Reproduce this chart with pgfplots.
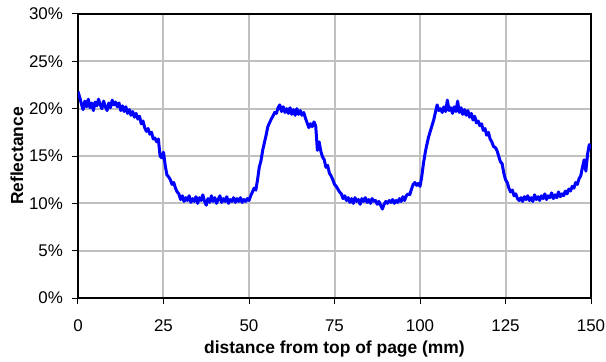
\documentclass[border=0pt]{standalone}
\usepackage{fontspec}
\setmainfont{Liberation Sans}
\usepackage{pgfplots}
\usepackage{pgfplotstable}
\pgfplotsset{compat=1.18}
\definecolor{gridgray}{RGB}{192,192,192}
\pgfplotstableread{
x y
0 21.8
0.5 21.2
1 20.5
1.5 19.9
2 20.8
2.5 20.2
3 21.0
3.5 20.1
4 20.6
4.5 19.8
5 20.7
5.5 20.3
6 21.0
6.5 20.4
7 20.0
7.5 20.8
8 20.2
8.5 19.8
9 20.6
9.5 20.1
10 20.9
10.5 20.4
11 20.7
11.5 20.2
12 20.6
12.5 19.8
13 20.3
13.5 19.7
14 20.2
14.5 19.5
15 19.9
15.5 19.3
16 19.7
16.5 19.1
17 19.5
17.5 18.9
18 19.2
18.5 18.4
19 18.7
19.5 18.0
20 17.6
20.5 17.9
21 17.3
21.5 17.5
22 16.8
22.5 16.9
23 16.5
23.5 16.8
24 15.0
24.5 14.8
25 15.4
25.5 14.0
26 13.0
26.5 12.8
27 12.5
27.5 12.0
28 12.2
28.5 11.6
29 11.2
29.5 11.0
30 10.4
30.5 10.8
31 10.2
31.5 10.6
32 10.3
32.5 10.8
33 10.1
33.5 10.5
34 10.2
34.5 10.7
35 10.0
35.5 10.6
36 10.3
36.5 10.9
37 10.2
37.5 9.8
38 10.5
38.5 10.1
39 10.8
39.5 10.2
40 10.6
40.5 10.0
41 10.4
41.5 10.8
42 10.1
42.5 10.5
43 10.2
43.5 10.7
44 10.0
44.5 10.4
45 10.2
45.5 10.6
46 10.1
46.5 10.5
47 10.2
47.5 10.6
48 10.1
48.5 10.4
49 10.2
49.5 10.5
50 10.3
50.5 10.8
51 11.2
51.5 11.6
52 11.4
52.5 12.5
53 13.8
53.5 14.5
54 15.6
54.5 16.4
55 17.2
55.5 18.1
56 18.5
56.5 18.9
57 19.2
57.5 19.6
58 19.5
58.5 20.1
59 20.4
59.5 19.7
60 20.2
60.5 19.6
61 20.0
61.5 19.5
62 20.1
62.5 19.4
63 19.9
63.5 19.3
64 20.0
64.5 19.4
65 19.8
65.5 19.3
66 19.6
66.5 19.0
67 18.5
67.5 18.0
68 18.4
68.5 18.1
69 18.6
69.5 18.2
70 15.6
70.5 16.5
71 15.5
71.5 14.9
72 14.6
72.5 13.8
73 14.0
73.5 13.2
74 12.9
74.5 12.5
75 12.0
75.5 11.8
76 11.5
76.5 11.2
77 11.0
77.5 10.5
78 10.8
78.5 10.3
79 10.6
79.5 10.1
80 10.5
80.5 10.0
81 10.6
81.5 10.2
82 10.4
82.5 9.9
83 10.5
83.5 10.2
84 10.6
84.5 10.1
85 10.4
85.5 10.0
86 10.5
86.5 10.2
87 10.3
87.5 9.9
88 10.2
88.5 9.8
89 9.4
89.5 9.9
90 10.2
90.5 10.0
91 10.3
91.5 10.1
92 10.4
92.5 10.0
93 10.3
93.5 10.1
94 10.5
94.5 10.2
95 10.7
95.5 10.3
96 10.8
96.5 11.0
97 10.9
97.5 11.5
98 12.0
98.5 12.2
99 11.9
99.5 12.1
100 11.8
100.5 12.8
101 14.2
101.5 15.3
102 16.2
102.5 17.0
103 17.6
103.5 18.2
104 18.8
104.5 19.6
105 20.4
105.5 19.8
106 20.0
106.5 19.6
107 20.2
107.5 19.7
108 20.9
108.5 19.8
109 20.1
109.5 19.5
110 20.2
110.5 19.7
111 20.8
111.5 19.6
112 20.1
112.5 19.4
113 19.9
113.5 19.3
114 19.8
114.5 19.1
115 19.5
115.5 18.8
116 19.2
116.5 18.5
117 18.7
117.5 18.2
118 18.4
118.5 17.7
119 17.9
119.5 17.2
120 17.5
120.5 16.8
121 16.5
121.5 16.0
122 15.9
122.5 15.6
123 15.0
123.5 14.4
124 14.2
124.5 13.2
125 12.5
125.5 12.2
126 11.6
126.5 11.2
127 11.4
127.5 10.8
128 11.0
128.5 10.5
129 10.3
129.5 10.6
130 10.2
130.5 10.7
131 10.4
131.5 10.8
132 10.3
132.5 10.6
133 10.2
133.5 10.9
134 10.4
134.5 10.7
135 10.3
135.5 10.8
136 10.5
136.5 11.0
137 10.4
137.5 10.8
138 10.6
138.5 11.1
139 10.5
139.5 10.9
140 10.6
140.5 11.2
141 10.7
141.5 11.0
142 10.8
142.5 11.3
143 11.0
143.5 11.5
144 11.3
144.5 11.8
145 11.6
145.5 12.2
146 12.0
146.5 12.6
147 12.9
147.5 13.8
148 14.6
148.5 13.4
149 15.2
149.5 16.2
150 15.8
}\refl
\begin{document}
\begin{tikzpicture}
\begin{axis}[
  scale only axis,
  width=513bp, height=284bp,
  xmin=0, xmax=150, ymin=0, ymax=30,
  xtick={0,25,...,150},
  ytick={0,5,...,30},
  yticklabel={\pgfmathprintnumber{\tick}\%},
  /pgf/number format/assume math mode=true,
  grid=major,
  major grid style={gridgray, line width=2bp},
  axis line style={black, line width=1.8bp},
  tick align=outside,
  tick pos=left,
  major tick length=5.5bp,
  xtick style={draw=black, line width=1bp},
  ytick style={draw=black, line width=1bp},
  tick label style={font=\fontsize{17}{17}\selectfont},
  xticklabel style={yshift=-13bp},
  yticklabel style={xshift=-6bp},
  label style={font=\fontsize{17.5}{17.5}\selectfont\bfseries},
  xlabel={distance from top of page (mm)},
  ylabel={Reflectance},
  xlabel style={at={(axis description cs:0.5,-0.18)}, anchor=center},
  ylabel style={at={(axis description cs:-0.119,0.5)}, anchor=center},
]
\addplot[blue, line width=3bp, line join=round] table[x=x, y=y] {\refl};
\end{axis}
\pgfresetboundingbox
\path[use as bounding box] (-78bp,-64bp) rectangle (528bp,298bp);
\end{tikzpicture}
\end{document}
